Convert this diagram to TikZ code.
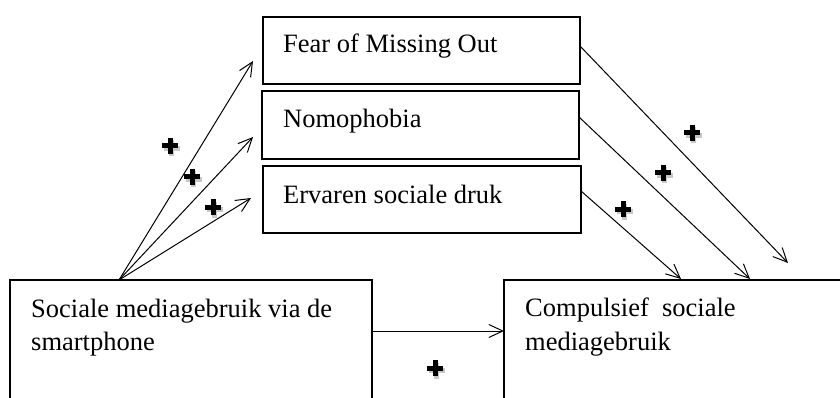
\documentclass[tikz,border=0pt]{standalone}
\usepackage{fontspec}
\setmainfont{Liberation Serif}
\usetikzlibrary{arrows.meta,calc}
\begin{document}
\begin{tikzpicture}[x=1pt,y=-1pt,
  box/.style={draw,line width=1.7pt,inner sep=0pt,outer sep=0pt,anchor=north west},
  lbl/.style={anchor=base west,inner sep=0pt,font=\fontsize{26.5}{33}\selectfont},
  arr/.style={line width=1pt,-{Straight Barb[length=14pt,width=13pt]}},
  plusmark/.style={line width=5pt},
  plusshadow/.style={line width=5.8pt,black!22}]
\useasboundingbox (0,0) rectangle (840,398);
\clip (0,0) rectangle (840,398);
\fill[white] (0,0) rectangle (840,398);

% boxes
\node[box,minimum width=317pt,minimum height=67pt] (fomo) at (263,17) {};
\node[box,minimum width=317pt,minimum height=68pt] (nomo) at (262,91) {};
\node[box,minimum width=318pt,minimum height=67pt] (erv) at (263,166) {};
\node[box,minimum width=362pt,minimum height=140pt] (soc) at (10,280) {};
\node[box,minimum width=350pt,minimum height=140pt] (comp) at (504,280) {};

% labels
\node[lbl] (t1) at (283,53) {Fear of Missing Out};
\node[lbl] (t2) at (283,128) {Nomophobia};
\node[lbl] (t3) at (283,204) {Ervaren sociale druk};
\node[lbl] (t4) at (31,317) {Sociale mediagebruik via de};
\node[lbl] (t5) at (31,350) {smartphone};
\node[lbl] (t6) at (525,316) {Compulsief\ \ sociale};
\node[lbl] (t7) at (525,350) {mediagebruik};

% connectors
\coordinate (src) at ($(soc.north west)+(109,0)$);
\draw[arr] (src) -- ($(fomo.south west)+(-10,-23)$);
\draw[arr] (src) -- ($(nomo.south west)+(-9,-22)$);
\draw[arr] (src) -- ($(erv.north west)+(-12,32)$);

\draw[arr] ($(fomo.north east)+(0,29)$) -- ($(comp.north west)+(284,-17)$);
\draw[arr] ($(nomo.north east)+(0,26)$) -- ($(comp.north west)+(246,-1)$);
\draw[arr] ($(erv.north east)+(0,25)$) -- ($(comp.north west)+(177,-1)$);

\draw[arr] ($(soc.north east)+(0,51)$) -- ($(comp.north west)+(0,51)$);

% plus signs
\foreach \px/\py in {170/146,192/177,213/207,692/133,663/173,623/209,435/368}{
  \draw[plusshadow] (\px-6.5,\py+2.5) -- (\px+9.5,\py+2.5) (\px+1.5,\py-5.5) -- (\px+1.5,\py+10.5);
  \draw[plusmark] (\px-8,\py) -- (\px+8,\py) (\px,\py-8) -- (\px,\py+8);
}
\end{tikzpicture}
\end{document}
